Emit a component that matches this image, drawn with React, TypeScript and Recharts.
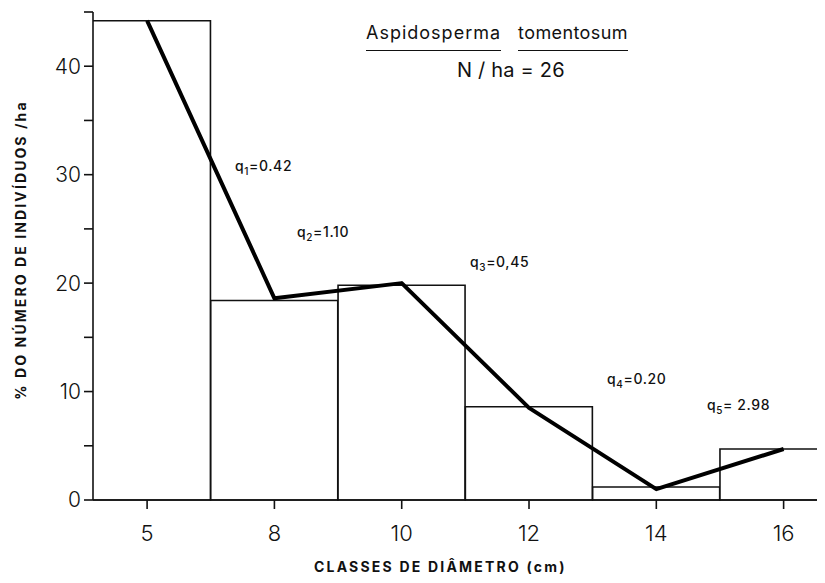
import { Bar, ComposedChart, Line, XAxis, YAxis } from 'recharts'

const CLASSES = ['5', '8', '10', '12', '14', '16']
const PERCENT_BARS = [44.2, 18.4, 19.8, 8.6, 1.2, 4.7]
const PERCENT_LINE = [44.2, 18.6, 20.0, 8.5, 1.0, 4.7]
const Y_TICKS = [0, 5, 10, 15, 20, 25, 30, 35, 40, 45]
const X_TICKS = [0, 1, 2, 3, 4, 5]

const data = CLASSES.map((c, i) => ({
  idx: i,
  label: c,
  bar: PERCENT_BARS[i],
  line: PERCENT_LINE[i],
}))

const FONT = 'Inter, "DejaVu Sans", sans-serif'

// anotações q_i do gráfico original
const Q_NOTES = [
  { n: '1', v: '0.42', left: 235, top: 157 },
  { n: '2', v: '1.10', left: 297, top: 223 },
  { n: '3', v: '0,45', left: 470, top: 253 },
  { n: '4', v: '0.20', left: 607, top: 370 },
  { n: '5', v: ' 2.98', left: 707, top: 396 },
]

const axisTitleStyle = {
  fontSize: 14,
  fontWeight: 700,
  fill: '#111',
  fontFamily: FONT,
}

export default function App() {
  return (
    <div
      style={{
        position: 'relative',
        margin: -8,
        width: 825,
        height: 583,
        overflow: 'hidden',
        background: '#fff',
        fontFamily: FONT,
        color: '#111',
      }}
    >
      <ComposedChart
        width={900}
        height={583}
        data={data}
        barCategoryGap={0}
        barGap={0}
        margin={{ top: 12, right: 40, bottom: 20, left: 0 }}
      >
        <XAxis
          type="number"
          dataKey="idx"
          domain={[-0.425, 5.6]}
          allowDataOverflow
          ticks={X_TICKS}
          tickFormatter={(i: number) => CLASSES[i] ?? ''}
          height={63}
          tickSize={9}
          tickMargin={16}
          stroke="#111"
          strokeWidth={1.6}
          tick={{ fontSize: 22, fill: '#111', fontFamily: FONT, fontWeight: 300 }}
          tickLine={{ stroke: '#111', strokeWidth: 1.6 }}
        />
        <YAxis
          type="number"
          domain={[0, 45]}
          ticks={Y_TICKS}
          tickFormatter={(v: number) => (v % 10 === 0 ? String(v) : '')}
          width={93}
          tickSize={9}
          tickMargin={3}
          stroke="#111"
          strokeWidth={1.6}
          tick={{ fontSize: 21, fill: '#111', fontFamily: FONT, fontWeight: 300 }}
          tickLine={{ stroke: '#111', strokeWidth: 1.6 }}
          label={{
            value: '% DO NÚMERO DE INDIVÍDUOS /ha',
            angle: -90,
            position: 'insideLeft',
            offset: 21,
            dy: -6,
            style: { ...axisTitleStyle, textAnchor: 'middle', letterSpacing: 2.1 },
          }}
        />
        <Bar
          dataKey="bar"
          fill="#fff"
          stroke="#111"
          strokeWidth={1.6}
          isAnimationActive={false}
        />
        <Line
          type="linear"
          dataKey="line"
          stroke="#000"
          strokeWidth={4}
          strokeLinejoin="round"
          dot={false}
          activeDot={false}
          isAnimationActive={false}
        />
      </ComposedChart>

      <div
        style={{
          position: 'absolute',
          left: 314,
          top: 559,
          fontSize: 14,
          lineHeight: '16px',
          fontWeight: 700,
          letterSpacing: 2.2,
          whiteSpace: 'pre',
        }}
      >
        CLASSES DE DIÂMETRO (cm)
      </div>

      <div style={{ position: 'absolute', left: 366, top: 22, fontSize: 18, letterSpacing: 1 }}>
        <span style={{ display: 'inline-block', borderBottom: '1.5px solid #111', paddingBottom: 7 }}>
          Aspidosperma
        </span>
        <span
          style={{
            display: 'inline-block',
            borderBottom: '1.5px solid #111',
            paddingBottom: 7,
            marginLeft: 17,
            letterSpacing: 0.4,
          }}
        >
          tomentosum
        </span>
      </div>
      <div style={{ position: 'absolute', left: 457, top: 58, fontSize: 20, letterSpacing: 0.2 }}>
        N / ha = 26
      </div>

      {Q_NOTES.map((q) => (
        <div
          key={q.n}
          style={{
            position: 'absolute',
            left: q.left,
            top: q.top,
            fontSize: 14,
            fontWeight: 500,
            letterSpacing: 0.6,
            whiteSpace: 'pre',
          }}
        >
          q<sub style={{ fontSize: 10 }}>{q.n}</sub>={q.v}
        </div>
      ))}
    </div>
  )
}
